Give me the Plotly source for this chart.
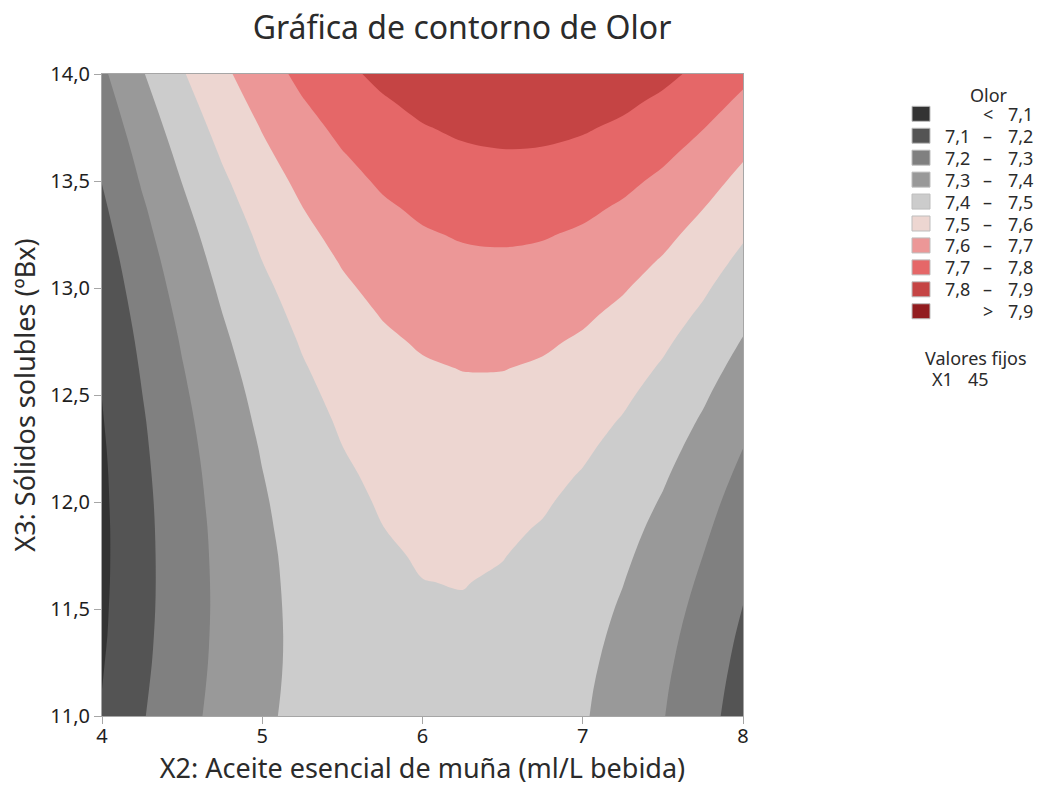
import plotly.graph_objects as go

# X2 grid (ml/L) and X3 grid (ºBx) with Olor values (X1 fixed at 45)
x2 = [4.0, 4.25, 4.5, 4.75, 5.0, 5.25, 5.5, 5.75, 6.0, 6.25, 6.5, 6.75, 7.0, 7.25, 7.5, 7.75, 8.0]
x3 = [11.0, 11.125, 11.25, 11.375, 11.5, 11.625, 11.75, 11.875, 12.0, 12.125, 12.25, 12.375,
      12.5, 12.625, 12.75, 12.875, 13.0, 13.125, 13.25, 13.375, 13.5, 13.625, 13.75, 13.875, 14.0]

olor = [
    [7.108, 7.193, 7.268, 7.331, 7.384, 7.425, 7.456, 7.475, 7.484, 7.481, 7.468, 7.443, 7.408, 7.361, 7.304, 7.235, 7.156],
    [7.100, 7.187, 7.262, 7.327, 7.380, 7.423, 7.454, 7.475, 7.484, 7.483, 7.470, 7.447, 7.412, 7.367, 7.310, 7.243, 7.164],
    [7.094, 7.181, 7.258, 7.323, 7.378, 7.421, 7.454, 7.475, 7.486, 7.485, 7.474, 7.452, 7.418, 7.374, 7.318, 7.252, 7.174],
    [7.088, 7.177, 7.255, 7.321, 7.377, 7.421, 7.455, 7.477, 7.489, 7.490, 7.479, 7.458, 7.425, 7.382, 7.327, 7.262, 7.185],
    [7.085, 7.174, 7.253, 7.320, 7.377, 7.423, 7.457, 7.481, 7.493, 7.495, 7.485, 7.465, 7.434, 7.391, 7.338, 7.273, 7.198],
    [7.082, 7.173, 7.252, 7.321, 7.379, 7.425, 7.461, 7.485, 7.499, 7.502, 7.493, 7.474, 7.443, 7.402, 7.350, 7.286, 7.212],
    [7.081, 7.173, 7.253, 7.323, 7.381, 7.429, 7.466, 7.491, 7.506, 7.510, 7.502, 7.484, 7.454, 7.414, 7.363, 7.300, 7.227],
    [7.081, 7.174, 7.255, 7.326, 7.386, 7.434, 7.472, 7.499, 7.514, 7.519, 7.512, 7.495, 7.467, 7.427, 7.377, 7.316, 7.243],
    [7.083, 7.176, 7.259, 7.331, 7.391, 7.441, 7.480, 7.507, 7.524, 7.529, 7.524, 7.508, 7.480, 7.442, 7.393, 7.332, 7.261],
    [7.085, 7.180, 7.264, 7.336, 7.398, 7.449, 7.488, 7.517, 7.535, 7.541, 7.537, 7.522, 7.495, 7.458, 7.410, 7.350, 7.280],
    [7.089, 7.185, 7.270, 7.343, 7.406, 7.458, 7.499, 7.528, 7.547, 7.555, 7.551, 7.537, 7.512, 7.475, 7.428, 7.370, 7.300],
    [7.095, 7.191, 7.277, 7.352, 7.416, 7.468, 7.510, 7.541, 7.560, 7.569, 7.567, 7.554, 7.529, 7.494, 7.448, 7.390, 7.322],
    [7.101, 7.199, 7.286, 7.362, 7.426, 7.480, 7.523, 7.554, 7.575, 7.585, 7.584, 7.571, 7.548, 7.514, 7.469, 7.412, 7.345],
    [7.109, 7.208, 7.296, 7.373, 7.438, 7.493, 7.537, 7.570, 7.591, 7.602, 7.602, 7.591, 7.568, 7.535, 7.491, 7.436, 7.369],
    [7.119, 7.218, 7.307, 7.385, 7.452, 7.507, 7.552, 7.586, 7.609, 7.620, 7.621, 7.611, 7.590, 7.558, 7.514, 7.460, 7.395],
    [7.129, 7.230, 7.320, 7.399, 7.466, 7.523, 7.569, 7.604, 7.627, 7.640, 7.642, 7.633, 7.613, 7.581, 7.539, 7.486, 7.422],
    [7.141, 7.243, 7.334, 7.414, 7.482, 7.540, 7.587, 7.623, 7.648, 7.661, 7.664, 7.656, 7.637, 7.607, 7.565, 7.513, 7.450],
    [7.154, 7.257, 7.349, 7.430, 7.500, 7.558, 7.606, 7.643, 7.669, 7.684, 7.687, 7.680, 7.662, 7.633, 7.593, 7.542, 7.479],
    [7.169, 7.273, 7.365, 7.447, 7.518, 7.578, 7.627, 7.665, 7.692, 7.707, 7.712, 7.706, 7.689, 7.661, 7.622, 7.571, 7.510],
    [7.185, 7.289, 7.383, 7.466, 7.538, 7.599, 7.649, 7.688, 7.715, 7.732, 7.738, 7.733, 7.717, 7.690, 7.652, 7.602, 7.542],
    [7.202, 7.308, 7.402, 7.486, 7.559, 7.621, 7.672, 7.712, 7.741, 7.759, 7.765, 7.761, 7.746, 7.720, 7.683, 7.635, 7.576],
    [7.220, 7.327, 7.423, 7.508, 7.582, 7.645, 7.696, 7.737, 7.767, 7.786, 7.794, 7.791, 7.777, 7.752, 7.716, 7.669, 7.610],
    [7.240, 7.348, 7.445, 7.531, 7.605, 7.669, 7.722, 7.764, 7.795, 7.815, 7.824, 7.822, 7.809, 7.785, 7.750, 7.703, 7.646],
    [7.261, 7.370, 7.468, 7.555, 7.631, 7.696, 7.749, 7.792, 7.824, 7.845, 7.855, 7.854, 7.842, 7.819, 7.785, 7.740, 7.684],
    [7.283, 7.393, 7.492, 7.580, 7.657, 7.723, 7.778, 7.822, 7.855, 7.877, 7.888, 7.888, 7.877, 7.855, 7.822, 7.777, 7.722],
]

levels = [7.1, 7.2, 7.3, 7.4, 7.5, 7.6, 7.7, 7.8, 7.9]
band_colors = ["#333333", "#545454", "#808080", "#999999", "#cccccc",
               "#edd6d1", "#ec9797", "#e56768", "#c54444", "#921c1f"]
x_ticks = [4, 5, 6, 7, 8]
y_ticks = [11.0, 11.5, 12.0, 12.5, 13.0, 13.5, 14.0]

FONT = "Noto Sans"
TXT = "#2b2b2b"
W, H = 1041, 787
L, R, T, B = 102, 743, 74, 716

def fmt(v):
    return f"{v:.1f}".replace(".", ",")

n = len(band_colors)
colorscale = [[i / (n - 1), c] for i, c in enumerate(band_colors)]

fig = go.Figure()
fig.add_trace(go.Contour(
    x=x2, y=x3, z=olor,
    autocontour=False,
    contours=dict(start=levels[0], end=levels[-1], size=0.1,
                  coloring="fill", showlines=False),
    colorscale=colorscale, zmin=7.0, zmax=8.0,
    line=dict(width=0, smoothing=1.0),
    showscale=False, hoverinfo="skip",
))

def px2x(px):
    return (px - L) / (R - L)

def py2y(py):
    return (B - py) / (B - T)

LEG_FS = 18
shapes = []
annotations = []
row0, dy = 113.8, 21.94
for k, col in enumerate(band_colors):
    cy = row0 + k * dy
    shapes.append(dict(type="rect", xref="paper", yref="paper",
                       x0=px2x(912), x1=px2x(930), y0=py2y(cy + 7.5), y1=py2y(cy - 7.5),
                       fillcolor=col, line=dict(color="#bdbdbd", width=1)))
    if k == 0:
        parts = [("<", 987.5, "center"), (fmt(levels[0]), 1034, "right")]
    elif k == n - 1:
        parts = [(">", 987.5, "center"), (fmt(levels[-1]), 1034, "right")]
    else:
        parts = [(fmt(levels[k - 1]), 971, "right"), ("–", 987.5, "center"),
                 (fmt(levels[k]), 1034, "right")]
    for text, xp, anc in parts:
        annotations.append(dict(text=text, xref="paper", yref="paper",
                                x=px2x(xp), y=py2y(cy), xanchor=anc, yanchor="middle",
                                borderpad=0, showarrow=False,
                                font=dict(family=FONT, size=LEG_FS, color=TXT)))

for text, xp, yp, anc in [("Olor", 989, 95, "center"), ("Valores fijos", 975.5, 358, "center"),
                          ("X1", 931, 379, "left"), ("45", 967, 379, "left")]:
    annotations.append(dict(text=text, xref="paper", yref="paper", x=px2x(xp), y=py2y(yp),
                            xanchor=anc, yanchor="middle", borderpad=0, showarrow=False,
                            font=dict(family=FONT, size=LEG_FS, color=TXT)))

axis_common = dict(showgrid=False, zeroline=False, showline=True, mirror=True,
                   linecolor="#a6a6a6", linewidth=1, ticks="outside", ticklen=7,
                   tickcolor="#a6a6a6", tickfont=dict(family=FONT, size=20, color="#1e1e1e"))

fig.update_layout(
    width=W, height=H,
    margin=dict(l=L, r=W - R, t=T, b=H - B, pad=0),
    paper_bgcolor="white", plot_bgcolor="white",
    separators=",.",
    title=dict(text="Gráfica de contorno de Olor", x=462 / W, xref="container", xanchor="center",
               y=1 - 28 / H, yref="container", yanchor="middle",
               font=dict(family=FONT, size=32, color=TXT)),
    xaxis=dict(range=[4, 8], tickvals=x_ticks, ticktext=[str(v) for v in x_ticks],
               ticklabelstandoff=-5,
               title=dict(text="X2: Aceite esencial de muña (ml/L bebida)", standoff=8,
                          font=dict(family=FONT, size=27, color=TXT)),
               **axis_common),
    yaxis=dict(range=[11, 14], tickvals=y_ticks, ticktext=[fmt(v) for v in y_ticks],
               title=dict(text="X3: Sólidos solubles (ºBx)", standoff=6,
                          font=dict(family=FONT, size=27, color=TXT)),
               **axis_common),
    shapes=shapes, annotations=annotations,
)

fig.write_html("out.html", config={"displayModeBar": False},
               post_script="document.body.style.margin='0px';")
